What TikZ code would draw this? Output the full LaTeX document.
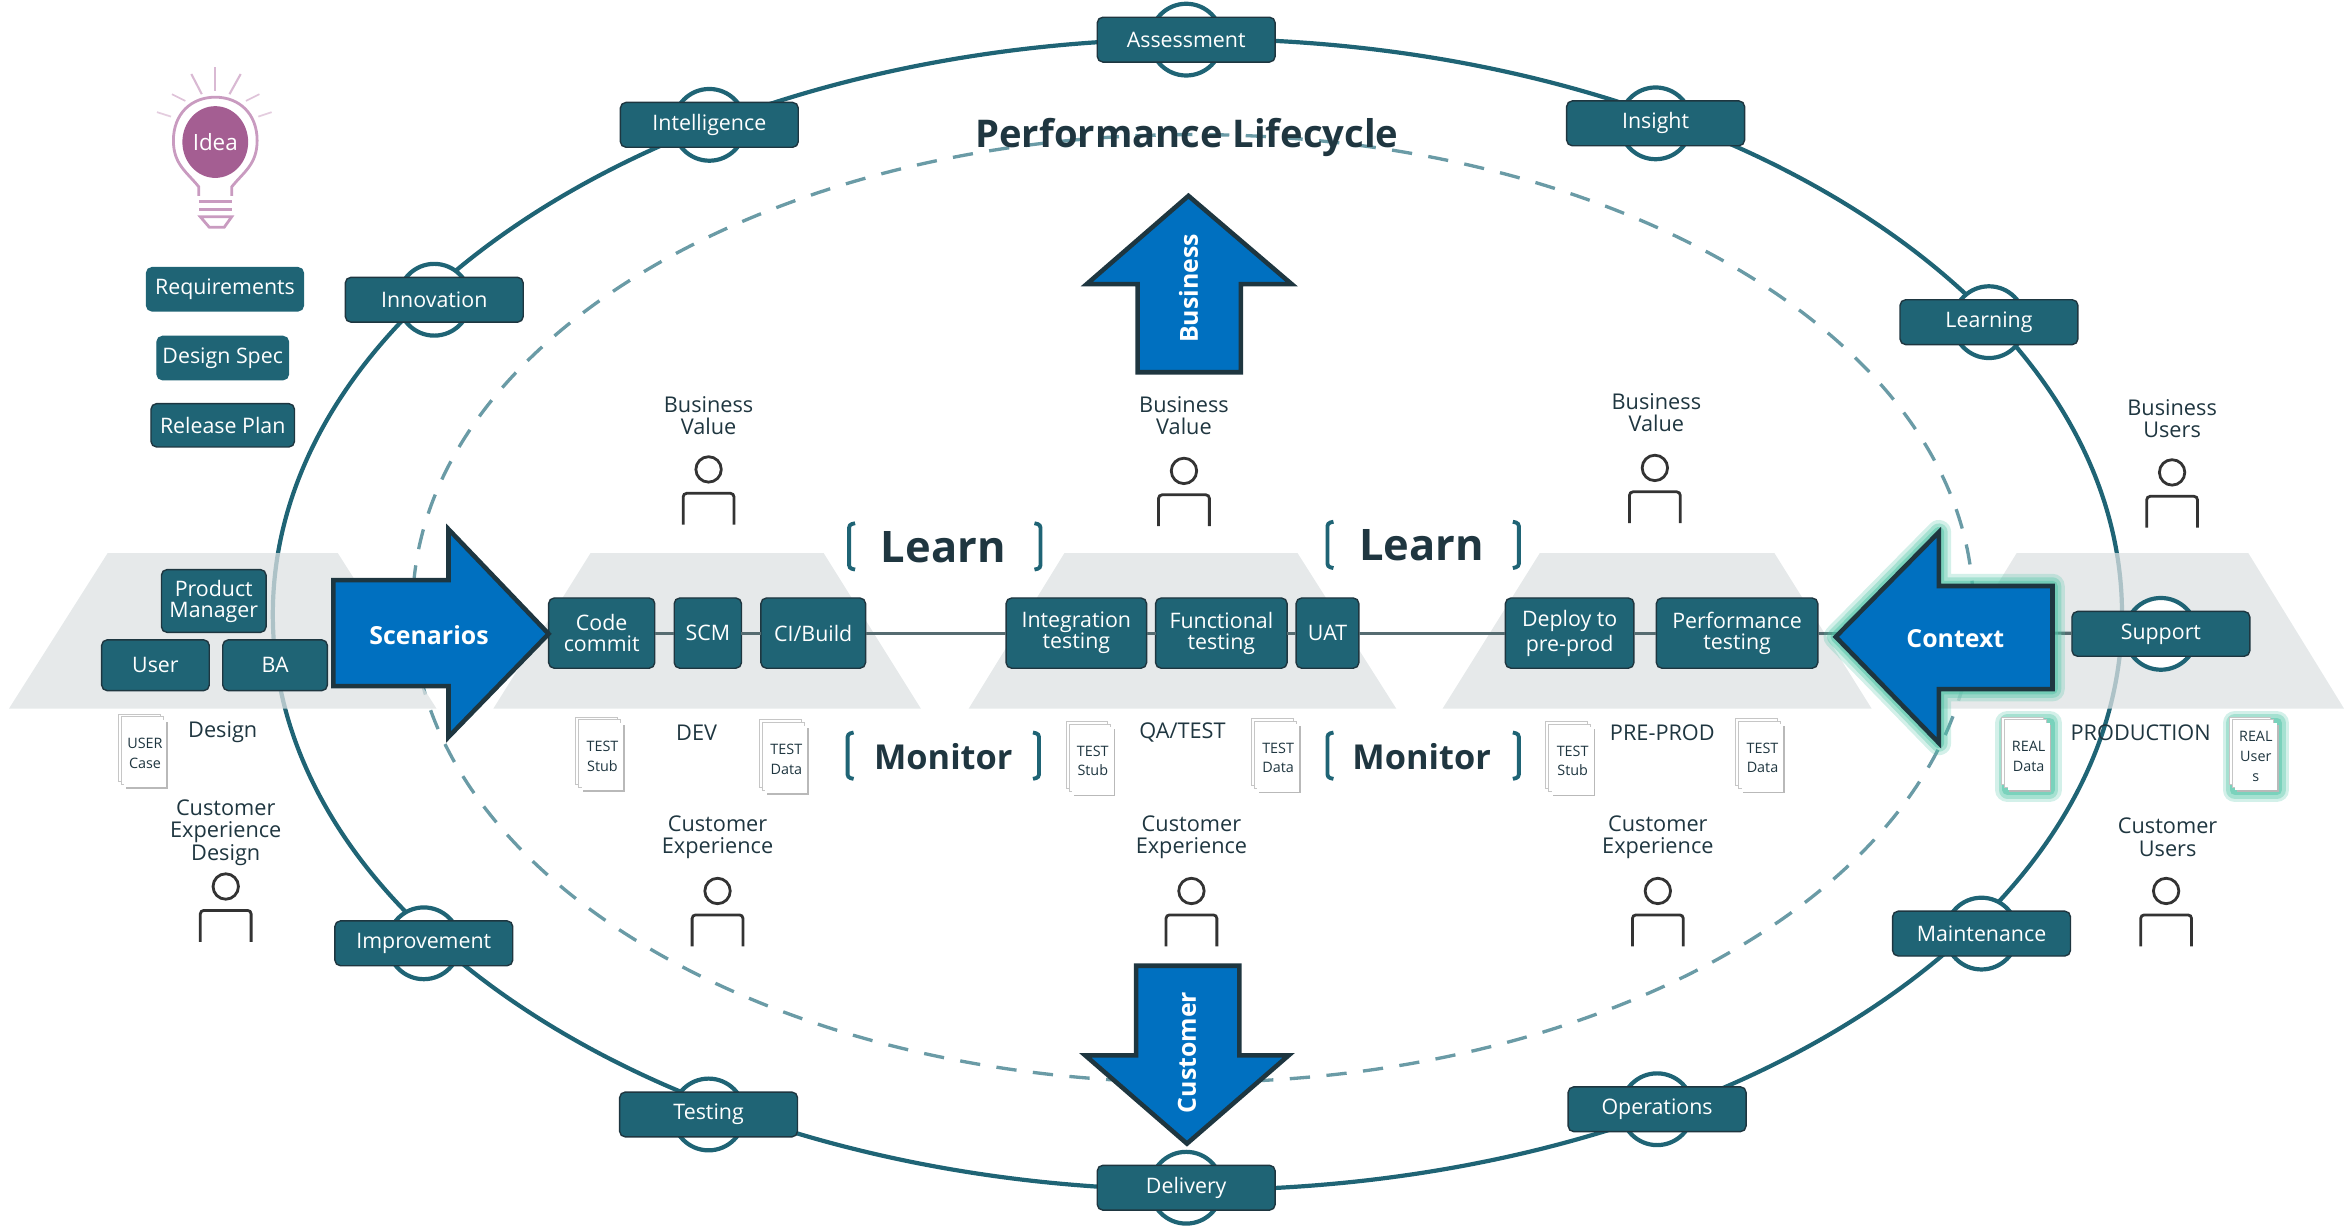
\documentclass[tikz,border=0pt]{standalone}
\usepackage{fontspec}
\setmainfont{Open Sans}
\usetikzlibrary{positioning, shadows, shapes.geometric}

\definecolor{tealbox}{HTML}{1F6475}
\definecolor{tealline}{HTML}{1F6475}
\definecolor{tealdash}{HTML}{6A9BA6}
\definecolor{darkedge}{HTML}{1E3640}
\definecolor{darktext}{HTML}{1F3640}
\definecolor{bluearrow}{HTML}{0070C0}
\definecolor{stagegrey}{HTML}{DDE2E3}
\definecolor{glowgreen}{HTML}{4FC4A6}
\definecolor{bulblilac}{HTML}{C99BC0}
\definecolor{bulbpurple}{HTML}{A45E92}
\def\px{.15mm}

\begin{document}
\begin{tikzpicture}[
                x=\px, y=-\px,
                stagebox/.style={rectangle, draw=darkedge, fill=tealbox, line width=.4pt, rounded corners=1.6pt, text=white, align=center, inner sep=0pt, outer sep=0pt, minimum height=47*\px, font=\fontsize{6.1}{6}\selectfont},
                ringbox/.style={stagebox, minimum width=119*\px, minimum height=30*\px},
                sidebox/.style={stagebox, draw=tealbox, minimum height=29*\px},
                ringnode/.style={circle, draw=tealline, fill=white, line width=1.2pt, minimum size=48*\px, inner sep=0pt},
                caption/.style={text=darktext, align=center, inner sep=0pt, font=\fontsize{6.2}{6.4}\selectfont},
                docnode/.style={rectangle, fill=white, text=darktext, align=center, inner sep=0pt, minimum width=28*\px, minimum height=45*\px, font=\fontsize{4.1}{5.6}\selectfont,
                        general shadow={fill=gray!55, shadow xshift=.5pt, shadow yshift=-.5pt},
                        double copy shadow={fill=white, draw=gray!45, line width=.2pt, shadow xshift=-.85pt, shadow yshift=.85pt}},
                glowing/.style={preaction={draw=glowgreen, opacity=.25, line width=7pt, line join=round},
                        preaction={draw=glowgreen, opacity=.35, line width=5pt, line join=round},
                        preaction={draw=glowgreen, opacity=.5, line width=3pt, line join=round}},
                bigarrow/.style={draw=darkedge, fill=bluearrow, line width=1.3pt, miter limit=6},
                arrowtext/.style={text=white, inner sep=0pt, font=\fontsize{7.1}{8}\selectfont\bfseries},
                bigword/.style={text=darktext, inner sep=0pt, font=\bfseries},
                stageline/.style={draw=black!55!tealbox!70, line width=.9pt},
                bracketline/.style={draw=tealline, line width=1.1pt, rounded corners=.8pt},
                person/.pic={
                        \draw[black!80, line width=.8pt] (0,0) circle (8.5);
                        \draw[black!80, line width=.8pt, rounded corners=1pt] (-17,37) -- (-17,16) -- (17,16) -- (17,37);
                },
                ]
                \useasboundingbox (0,0) rectangle (1568,820);

                %Lifecycle rings
                \draw[tealline, line width=1.2pt] (801,411) ellipse (618.5 and 385);
                \draw[tealdash, line width=.95pt, dash pattern=on 5.8pt off 4.7pt] (798,407) ellipse (522 and 317);

                %Stages
                \fill[stagegrey, opacity=.75] (72,370) -- (226,370) -- (292,474) -- (6,474) -- cycle;
                \fill[stagegrey, opacity=.75] (395,370) -- (551,370) -- (616,474) -- (330,474) -- cycle;
                \fill[stagegrey, opacity=.75] (712,370) -- (868,370) -- (934,474) -- (648,474) -- cycle;
                \fill[stagegrey, opacity=.75] (1030,370) -- (1187,370) -- (1252,474) -- (965,474) -- cycle;
                \fill[stagegrey, opacity=.75] (1349,370) -- (1504,370) -- (1568,474) -- (1285,474) -- cycle;

                %Nodes
                \node[bigword, font=\fontsize{10.9}{12}\selectfont\bfseries] (title) at (794,92) {Performance Lifecycle};

                \node[ringnode] (assessmentring) at (793.5,26.5) {};
                \node[ringbox] (assessment) at (793.5,26.5) {Assessment};
                \node[ringnode] (intelligencering) at (474.5,83.5) {};
                \node[ringbox] (intelligence) at (474.5,83.5) {Intelligence};
                \node[ringnode] (insightring) at (1107.5,82.5) {};
                \node[ringbox] (insight) at (1107.5,82.5) {Insight};
                \node[ringnode] (innovationring) at (290.5,200.5) {};
                \node[ringbox] (innovation) at (290.5,200.5) {Innovation};
                \node[ringnode] (learningring) at (1330.5,215.5) {};
                \node[ringbox] (learning) at (1330.5,215.5) {Learning};
                \node[ringnode] (improvementring) at (283.5,631) {};
                \node[ringbox] (improvement) at (283.5,631) {Improvement};
                \node[ringnode] (maintenancering) at (1325.5,624.5) {};
                \node[ringbox] (maintenance) at (1325.5,624.5) {Maintenance};
                \node[ringnode] (testingring) at (474,745.5) {};
                \node[ringbox] (testing) at (474,745.5) {Testing};
                \node[ringnode] (operationsring) at (1108.5,742) {};
                \node[ringbox] (operations) at (1108.5,742) {Operations};
                \node[ringnode] (deliveryring) at (793.5,794.5) {};
                \node[ringbox] (delivery) at (793.5,794.5) {Delivery};
                \node[ringnode] (supportring) at (1445.5,424) {};
                \node[ringbox] (support) at (1445.5,424) {Support};

                \node[sidebox, minimum width=105*\px] (requirements) at (150.5,193.5) {Requirements};
                \node[sidebox, minimum width=88*\px] (designspec) at (149,239.5) {Design Spec};
                \node[sidebox, minimum width=96*\px, draw=darkedge] (releaseplan) at (149,284.5) {Release Plan};

                \node[stagebox, minimum width=70*\px, minimum height=42*\px] (productmanager) at (143,402) {Product\\Manager};
                \node[stagebox, minimum width=72*\px, minimum height=34*\px] (user) at (104,445) {User};
                \node[stagebox, minimum width=70*\px, minimum height=34*\px] (ba) at (184,445) {BA};

                \node[stagebox, minimum width=71*\px] (codecommit) at (402.5,423.5) {Code\\commit};
                \node[stagebox, minimum width=45*\px] (scm) [right=13*\px of codecommit] {SCM};
                \node[stagebox, minimum width=70*\px] (cibuild) [right=13*\px of scm] {CI/Build};
                \node[stagebox, minimum width=94*\px] (integration) at (720,423.5) {Integration\\testing};
                \node[stagebox, minimum width=88*\px] (functional) [right=6*\px of integration] {Functional\\testing};
                \node[stagebox, minimum width=42*\px] (uat) [right=6*\px of functional] {UAT};
                \node[stagebox, minimum width=86*\px] (deploy) at (1050,423.5) {Deploy to\\pre-prod};
                \node[stagebox, minimum width=108*\px] (performance) [right=15*\px of deploy] {Performance\\testing};

                \node[caption] (design) at (149,490) {Design};
                \node[caption] (dev) at (466,490) {DEV};
                \node[caption] (qatest) at (791,490) {QA/TEST};
                \node[caption] (preprod) at (1112,490) {PRE-PROD};
                \node[caption] (production) at (1432,490) {PRODUCTION};

                \node[caption] (valuedev) at (474,278) {Business\\Value};
                \node[caption] (valueqa) at (792,278) {Business\\Value};
                \node[caption] (valuepre) at (1108,276) {Business\\Value};
                \node[caption] (businessusers) at (1453,280) {Business\\Users};
                \node[caption] (experiencedesign) at (151,557) {Customer\\Experience\\Design};
                \node[caption] (experiencedev) at (480,560) {Customer\\Experience};
                \node[caption] (experienceqa) at (797,560) {Customer\\Experience};
                \node[caption] (experiencepre) at (1109,560) {Customer\\Experience};
                \node[caption] (customerusers) at (1450,560) {Customer\\Users};

                \pic at (474,314) {person};
                \pic at (792,315) {person};
                \pic at (1107,313) {person};
                \pic at (1453,316) {person};
                \pic at (151,593) {person};
                \pic at (480,596) {person};
                \pic at (797,596) {person};
                \pic at (1109,596) {person};
                \pic at (1449,596) {person};

                \node[docnode] (usercase) at (97,504) {USER\\Case};
                \node[docnode] (stubdev) at (403,506) {TEST\\Stub};
                \node[docnode] (datadev) at (526,508) {TEST\\Data};
                \node[docnode] (stubqa) at (731,509) {TEST\\Stub};
                \node[docnode] (dataqa) at (855,507) {TEST\\Data};
                \node[docnode] (stubpre) at (1052,509) {TEST\\Stub};
                \node[docnode] (datapre) at (1179,507) {TEST\\Data};
                \node[glowing, docnode] (realdata) at (1357,506) {REAL\\Data};
                \node[glowing, docnode] (realusers) at (1509,506) {REAL\\User\\s};

                \node[bigword, font=\fontsize{12.4}{14}\selectfont\bfseries] (learnleft) at (631,366) {Learn};
                \node[bigword, font=\fontsize{12.4}{14}\selectfont\bfseries] (learnright) at (951,365) {Learn};
                \node[bigword, font=\fontsize{9.8}{12}\selectfont\bfseries] (monitorleft) at (631,506) {Monitor};
                \node[bigword, font=\fontsize{9.8}{12}\selectfont\bfseries] (monitorright) at (951,506) {Monitor};

                %Brackets
                \foreach \bx/\by in {568/350, 888/349, 567/490, 888/490} {
                        \draw[bracketline] (\bx+4,\by) -- (\bx,\by+1) -- (\bx,\by+30) -- (\bx+4,\by+31);
                        \draw[bracketline] (\bx+124,\by) -- (\bx+128,\by+1) -- (\bx+128,\by+30) -- (\bx+124,\by+31);
                }

                %Lines
                \coordinate (contexttip) at (1240,423.5);
                \coordinate (contexttail) at (1373,423.5);
                \draw[stageline] (codecommit) -- (scm);
                \draw[stageline] (scm) -- (cibuild);
                \draw[stageline] (cibuild) -- (integration);
                \draw[stageline] (integration) -- (functional);
                \draw[stageline] (functional) -- (uat);
                \draw[stageline] (uat) -- (deploy);
                \draw[stageline] (deploy) -- (performance);
                \draw[stageline] (performance) -- (contexttip);
                \draw[stageline] (contexttail) -- (support);

                %Big arrows
                \draw[bigarrow] (223,388) -- (300,388) -- (300,354) -- (367,424) -- (300,493) -- (300,459) -- (223,459) -- cycle;
                \node[arrowtext] (scenarios) at (287,425) {Scenarios};
                \draw[glowing, bigarrow] (1373,392) -- (1297,392) -- (1297,356) -- (1228,426) -- (1297,497) -- (1297,461) -- (1373,461) -- cycle;
                \node[arrowtext] (context) at (1308,427) {Context};
                \draw[bigarrow] (761,249) -- (761,190) -- (727,190) -- (795,131) -- (864,190) -- (830,190) -- (830,249) -- cycle;
                \node[arrowtext, rotate=90] (business) at (795,193) {Business};
                \draw[bigarrow] (760,646) -- (760,706) -- (726,706) -- (794,765) -- (862,706) -- (829,706) -- (829,646) -- cycle;
                \node[arrowtext, rotate=90] (customer) at (794,704) {Customer};

                %Idea bulb
                \draw[bulblilac, line width=.8pt] (133,131) -- (133,125) .. controls (125,115) and (116,110) .. (116,94) .. controls (116,76) and (128,65) .. (144,65) .. controls (160,65) and (172,76) .. (172,94) .. controls (172,110) and (163,115) .. (155,125) -- (155,131);
                \draw[bulblilac, line width=.8pt] (133,135) -- (155,135);
                \draw[bulblilac, line width=.8pt] (133,140) -- (155,140);
                \draw[bulblilac, line width=.8pt] (134,145) -- (155,145) -- (150,152) -- (140,152) -- cycle;
                \node[ellipse, fill=bulbpurple, text=white, minimum width=44*\px, minimum height=48*\px, inner sep=0pt, font=\fontsize{6.4}{7}\selectfont] (idea) at (144,95) {Idea};
                \draw[bulblilac!70, line width=.6pt] (144,45) -- (144,61);
                \draw[bulblilac!70, line width=.6pt] (128,49.5) -- (135,63);
                \draw[bulblilac!70, line width=.6pt] (161,49.5) -- (153.5,63);
                \draw[bulblilac!60, line width=.5pt] (115,63) -- (124,67.5);
                \draw[bulblilac!60, line width=.5pt] (173.5,63) -- (164.5,67.5);
                \draw[bulblilac!50, line width=.5pt] (105,75) -- (114.4,78);
                \draw[bulblilac!50, line width=.5pt] (181.7,75) -- (172.8,78);
\end{tikzpicture}
\end{document}
